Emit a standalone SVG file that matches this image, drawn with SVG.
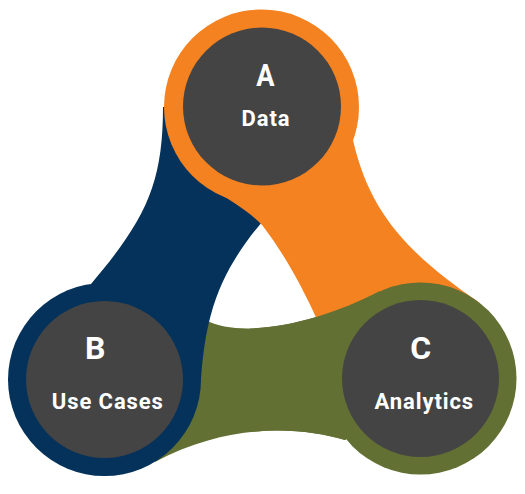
<svg xmlns="http://www.w3.org/2000/svg" xmlns:xlink="http://www.w3.org/1999/xlink" width="525" height="494" viewBox="0 0 525 494">
<style>
.orange{fill:#F58220}
.navy{fill:#04325B}
.olive{fill:#627033}
.core{fill:#444444}
.letter{font-family:Roboto,"Liberation Sans",sans-serif;font-weight:700;font-size:32px;fill:#FFFFFF;text-anchor:middle}
.label{font-family:Roboto,"Liberation Sans",sans-serif;font-weight:700;font-size:22px;fill:#FFFFFF;text-anchor:middle;letter-spacing:0.9px}
</style>
<defs>
<path id="oliveBand" d="M 205,320 C 245,340 320,322 380,291 L 420,379 L 345,440 C 300,427 230,422 155,462 L 104,379 Z"/>
<clipPath id="rightPart"><rect x="250" y="250" width="275" height="244"/></clipPath>
</defs>
<g id="connectors">
<use xlink:href="#oliveBand" class="olive"/>
<path class="navy" d="M 163,107 C 163,185 145,220 91,284 L 104,379 L 201,378 C 202.9,352.5 205.96,332.97 210.61,315.68 C 221.47,275.34 241,247.2 262,222 L 261,107 Z"/>
<path class="orange" d="M 200,182 C 222,195 248,210 262,225 C 272,238 300,275 330,350 L 420,379 L 480,303 C 410,255 370,215 353,140 L 261,107 Z"/>
<use xlink:href="#oliveBand" class="olive" clip-path="url(#rightPart)"/>
</g>
<g id="nodeA">
<circle class="orange" cx="261.5" cy="107" r="97.5"/>
<circle class="core" cx="262" cy="106.5" r="79"/>
<text class="letter" transform="translate(265.5,86) scale(0.85,1)">A</text>
<text class="label" x="266" y="126">Data</text>
</g>
<g id="nodeB">
<circle class="navy" cx="104.5" cy="379.5" r="96.5"/>
<circle class="core" cx="104.5" cy="379.5" r="78.5"/>
<text class="letter" x="95.3" y="358.5">B</text>
<text class="label" x="107.8" y="409">Use Cases</text>
</g>
<g id="nodeC">
<circle class="olive" cx="420.5" cy="378.5" r="96"/>
<circle class="core" cx="420.5" cy="378.5" r="78.5"/>
<text class="letter" x="420.8" y="358.5">C</text>
<text class="label" x="424.3" y="409">Analytics</text>
</g>
</svg>
